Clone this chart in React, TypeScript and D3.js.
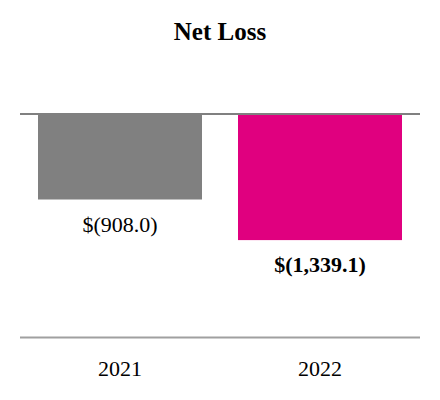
import React from "react";
import * as d3 from "d3";

const categories = ["2021", "2022"];
const values = [-908.0, -1339.1];
const valueLabels = ["$(908.0)", "$(1,339.1)"];
const barColors = ["#808080", "#E0007F"];
const boldLabel = [false, true];
const title = "Net Loss";

export default function App() {
  const W = 440, H = 400;
  const x = d3.scaleBand<string>().domain(categories).range([20, 420]).paddingInner(0.18).paddingOuter(0.09);
  const y = d3.scaleLinear().domain([0, -2400]).range([114, 340]);
  const font = "'Liberation Serif', 'Times New Roman', serif";
  return (
    <svg width={W} height={H} style={{ position: "absolute", left: 0, top: 0, background: "#fff" }} fontFamily={font}>
      <text x={220} y={40} textAnchor="middle" fontSize={25} fontWeight="bold" fill="#000">{title}</text>
      {categories.map((c, i) => (
        <g key={c}>
          <rect x={x(c)} y={y(0)} width={x.bandwidth()} height={y(values[i]) - y(0)} fill={barColors[i]} />
          <text x={(x(c) as number) + x.bandwidth() / 2} y={y(values[i]) + 32} textAnchor="middle" fontSize={22}
            fontWeight={boldLabel[i] ? "bold" : "normal"} fill="#000">{valueLabels[i]}</text>
          <text x={(x(c) as number) + x.bandwidth() / 2} y={376} textAnchor="middle" fontSize={22} fill="#000">{c}</text>
        </g>
      ))}
      <line x1={20} x2={420} y1={y(0)} y2={y(0)} stroke="#808080" strokeWidth={2} />
      <line x1={20} x2={420} y1={337.5} y2={337.5} stroke="#a0a0a0" strokeWidth={2} />
    </svg>
  );
}
